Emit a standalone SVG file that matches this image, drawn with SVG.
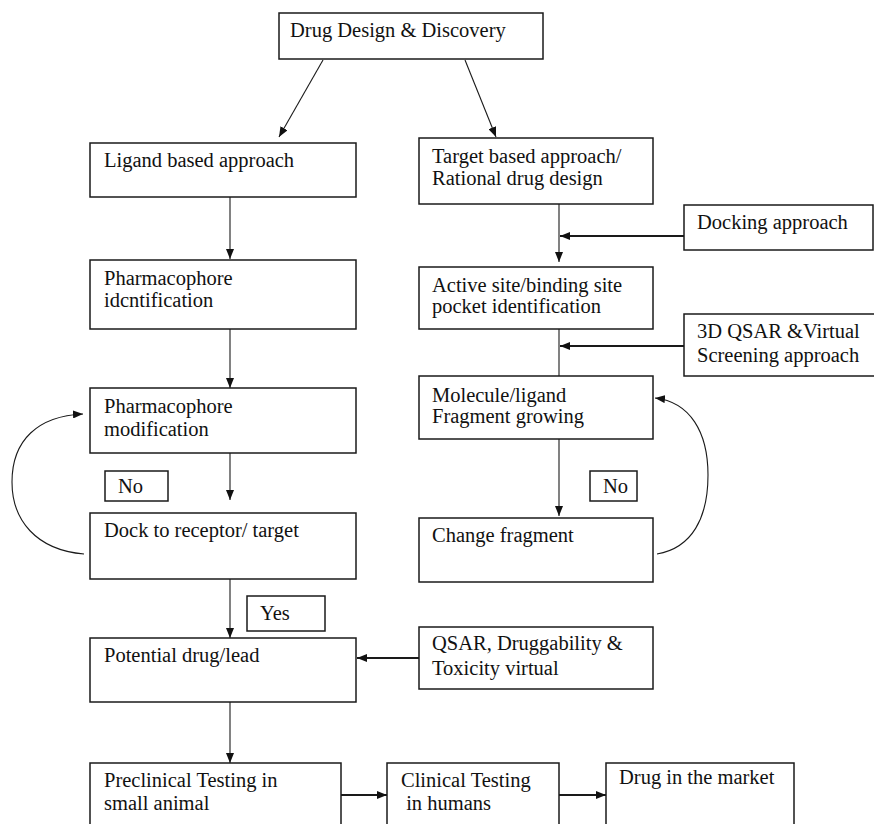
<svg xmlns="http://www.w3.org/2000/svg" width="874" height="824" viewBox="0 0 874 824">
  <style>
    .box { fill: #ffffff; stroke: #1a1a1a; stroke-width: 1.5; }
    .lbl { font-family: "Liberation Serif", "DejaVu Serif", serif; font-size: 20.5px; fill: #111111; }
    .wire { fill: none; stroke: #1a1a1a; stroke-width: 1.1; }
    .wire-bold { fill: none; stroke: #1a1a1a; stroke-width: 2; }
  </style>
  <defs>
    <marker id="arrow" markerUnits="userSpaceOnUse" markerWidth="10" markerHeight="8" refX="10" refY="4" orient="auto">
      <path d="M0,0 L10,4 L0,8 z" fill="#111111"/>
    </marker>
  </defs>
  <rect width="874" height="824" fill="#ffffff"/>

  <!-- connectors -->
  <g id="connectors">
    <line class="wire" x1="323" y1="60" x2="279" y2="137" marker-end="url(#arrow)"/>
    <line class="wire" x1="465" y1="60" x2="496" y2="137" marker-end="url(#arrow)"/>
    <line class="wire" x1="230" y1="197" x2="230" y2="259" marker-end="url(#arrow)"/>
    <line class="wire" x1="230" y1="329" x2="230" y2="388" marker-end="url(#arrow)"/>
    <line class="wire" x1="230" y1="453" x2="230" y2="500" marker-end="url(#arrow)"/>
    <line class="wire" x1="230" y1="579" x2="230" y2="638" marker-end="url(#arrow)"/>
    <line class="wire" x1="230" y1="702" x2="230" y2="763" marker-end="url(#arrow)"/>
    <line class="wire" x1="559" y1="204" x2="559" y2="262" marker-end="url(#arrow)"/>
    <line class="wire-bold" x1="684" y1="236" x2="560" y2="236" marker-end="url(#arrow)"/>
    <line class="wire" x1="559" y1="329" x2="559" y2="376"/>
    <line class="wire-bold" x1="684" y1="346" x2="560" y2="346" marker-end="url(#arrow)"/>
    <line class="wire" x1="559" y1="439" x2="559" y2="516" marker-end="url(#arrow)"/>
    <line class="wire-bold" x1="419" y1="658" x2="357" y2="658" marker-end="url(#arrow)"/>
    <line class="wire-bold" x1="341" y1="795" x2="387" y2="795" marker-end="url(#arrow)"/>
    <line class="wire-bold" x1="559" y1="795" x2="606" y2="795" marker-end="url(#arrow)"/>
    <!-- feedback loops -->
    <path class="wire" d="M84,554 C36,550 12,520 12,482 C12,440 38,416 83,414" marker-end="url(#arrow)"/>
    <path class="wire" d="M657,554 C692,548 708,518 708,475 C708,432 690,402 655,398" marker-end="url(#arrow)"/>
  </g>

  <g id="start">
    <rect class="box" x="279" y="13" width="264" height="46"/>
    <text class="lbl" x="290" y="37">Drug Design &amp; Discovery</text>
  </g>

  <g id="ligand">
    <rect class="box" x="90" y="143" width="266" height="54"/>
    <text class="lbl" x="104" y="167">Ligand based approach</text>
  </g>

  <g id="target">
    <rect class="box" x="419" y="138" width="234" height="66"/>
    <text class="lbl" x="432" y="163">Target based approach/</text>
    <text class="lbl" x="432" y="185">Rational drug design</text>
  </g>

  <g id="docking">
    <rect class="box" x="684" y="205" width="189" height="45"/>
    <text class="lbl" x="697" y="229">Docking approach</text>
  </g>

  <g id="pharm-id">
    <rect class="box" x="90" y="260" width="266" height="69"/>
    <text class="lbl" x="104" y="285">Pharmacophore</text>
    <text class="lbl" x="104" y="307">idcntification</text>
  </g>

  <g id="active-site">
    <rect class="box" x="419" y="267" width="234" height="62"/>
    <text class="lbl" x="432" y="292">Active site/binding site</text>
    <text class="lbl" x="432" y="313">pocket identification</text>
  </g>

  <g id="qsar3d">
    <rect class="box" x="684" y="314" width="192" height="62"/>
    <text class="lbl" x="697" y="338">3D QSAR &amp;Virtual</text>
    <text class="lbl" x="697" y="362">Screening approach</text>
  </g>

  <g id="pharm-mod">
    <rect class="box" x="90" y="388" width="266" height="65"/>
    <text class="lbl" x="104" y="413">Pharmacophore</text>
    <text class="lbl" x="104" y="436">modification</text>
  </g>

  <g id="molecule">
    <rect class="box" x="419" y="376" width="234" height="63"/>
    <text class="lbl" x="432" y="402">Molecule/ligand</text>
    <text class="lbl" x="432" y="423">Fragment growing</text>
  </g>

  <g id="no-left">
    <rect class="box" x="105" y="471" width="63" height="30"/>
    <text class="lbl" x="118" y="493">No</text>
  </g>

  <g id="no-right">
    <rect class="box" x="590" y="471" width="47" height="30"/>
    <text class="lbl" x="603" y="493">No</text>
  </g>

  <g id="dock-target">
    <rect class="box" x="90" y="513" width="266" height="66"/>
    <text class="lbl" x="104" y="537">Dock to receptor/ target</text>
  </g>

  <g id="change-fragment">
    <rect class="box" x="419" y="518" width="234" height="64"/>
    <text class="lbl" x="432" y="542">Change fragment</text>
  </g>

  <g id="yes">
    <rect class="box" x="247" y="596" width="78" height="35"/>
    <text class="lbl" x="260" y="620">Yes</text>
  </g>

  <g id="qsar-tox">
    <rect class="box" x="419" y="627" width="234" height="62"/>
    <text class="lbl" x="432" y="650">QSAR, Druggability &amp;</text>
    <text class="lbl" x="432" y="675">Toxicity virtual</text>
  </g>

  <g id="lead">
    <rect class="box" x="90" y="638" width="266" height="64"/>
    <text class="lbl" x="104" y="662">Potential drug/lead</text>
  </g>

  <g id="preclinical">
    <rect class="box" x="90" y="763" width="251" height="70"/>
    <text class="lbl" x="104" y="787">Preclinical Testing in</text>
    <text class="lbl" x="104" y="810">small animal</text>
  </g>

  <g id="clinical">
    <rect class="box" x="387" y="763" width="172" height="70"/>
    <text class="lbl" x="401" y="787">Clinical Testing</text>
    <text class="lbl" x="401" y="810" xml:space="preserve"> in humans</text>
  </g>

  <g id="market">
    <rect class="box" x="606" y="763" width="188" height="70"/>
    <text class="lbl" x="619" y="784">Drug in the market</text>
  </g>
</svg>
